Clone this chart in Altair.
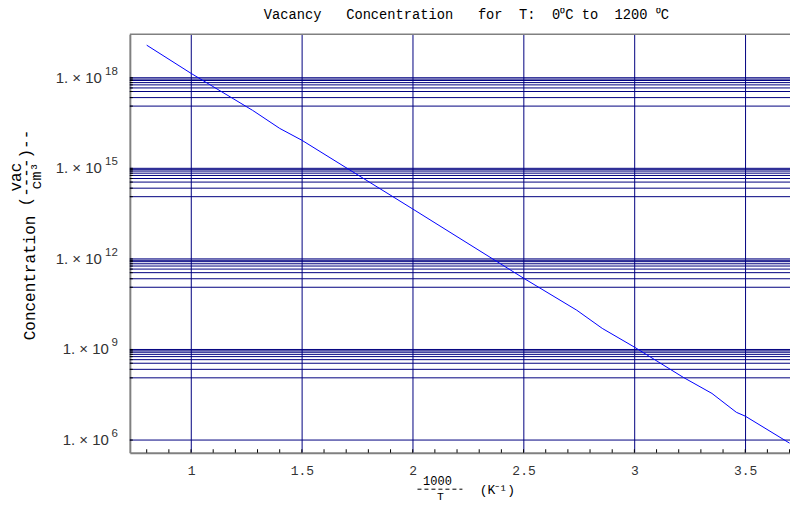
import altair as alt
import pandas as pd

# ---- data ----
inv_T = [0.80, 1.00, 1.278, 1.40, 1.50, 2.00, 2.50, 2.74, 2.855, 3.00, 3.22, 3.35, 3.46, 3.50, 3.70]
conc = [1.2e19, 1.4e18, 8.3e16, 2.1e16, 8.5e15, 4.5e13, 2.3e11, 2.0e10, 5.0e9, 1.2e9,
        1.2e8, 3.5e7, 8.3e6, 6.2e6, 7.9e5]

x_major = [1, 1.5, 2, 2.5, 3, 3.5]
x_minor = [0.8, 0.9, 1.0, 1.1, 1.2, 1.3, 1.4, 1.5, 1.6, 1.7, 1.8, 1.9, 2.0, 2.1, 2.2,
           2.3, 2.4, 2.5, 2.6, 2.7, 2.8, 2.9, 3.0, 3.1, 3.2, 3.3, 3.4, 3.5, 3.6, 3.7]

y_major = [1e6, 1e9, 1e12, 1e15, 1e18]
y_exps = ["6", "9", "12", "15", "18"]
y_main = "1. × 10"

grid_tops = [1e9, 1e12, 1e15, 1e18]
grid_mult = [1.0, 0.9, 0.81, 0.69, 0.58, 0.46, 0.35, 0.22, 0.115]
grid_y = [1e6] + [t * m for t in grid_tops for m in grid_mult]

W, H = 661, 419
NAVY = "#000080"
MONO = "Liberation Mono"
SANS = "Liberation Sans"
S = "\u00a0"
LBL = "#333333"

xscale = alt.Scale(domain=[0.724, 3.702], nice=False, zero=False)
yscale = alt.Scale(type="log", domain=[3.8e5, 2.75e19], nice=False)

xaxis = alt.Axis(values=x_major, grid=True, gridColor=NAVY, gridOpacity=1,
                 gridWidth=1, ticks=False, domainColor="#808080", domainWidth=2,
                 labelFont=MONO, labelFontSize=13, labelColor=LBL,
                 labelPadding=12, labelExpr="'' + datum.value", title=None)
yaxis = alt.Axis(values=y_major, grid=False, ticks=False, labels=False,
                 domainColor="#808080", domainWidth=2, title=None)

curve_df = pd.DataFrame({"x": inv_T, "c": conc})
grid_df = pd.DataFrame({"v": grid_y})
tick_df = pd.DataFrame({"t": x_minor})
lab_df = pd.DataFrame({"v": y_major, "e": y_exps})

curve = alt.Chart(curve_df).mark_line(color="#0000ff", strokeWidth=1).encode(
    x=alt.X("x:Q", scale=xscale, axis=xaxis),
    y=alt.Y("c:Q", scale=yscale, axis=yaxis),
)
hgrid = alt.Chart(grid_df).mark_rule(color=NAVY, strokeWidth=1).encode(
    y=alt.Y("v:Q", scale=yscale, axis=yaxis)
)
lticks = alt.Chart(grid_df).mark_rule(color="black", strokeWidth=1).encode(
    y=alt.Y("v:Q", scale=yscale, axis=yaxis), x=alt.value(0), x2=alt.value(3)
)
bticks = alt.Chart(tick_df).mark_rule(color="black", strokeWidth=1).encode(
    x=alt.X("t:Q", scale=xscale, axis=xaxis), y=alt.value(H), y2=alt.value(H - 3.5)
)

lab_base = alt.Chart(lab_df)
exps = lab_base.mark_text(
    font=SANS, fontSize=11.5, color=LBL, align="right", baseline="middle", dy=-6
).encode(y=alt.Y("v:Q", scale=yscale, axis=yaxis), x=alt.value(-12), text="e:N")
main2 = lab_base.transform_filter("datum.v > 1e10").mark_text(
    text=y_main, font=SANS, fontSize=15, color=LBL, align="right", baseline="middle"
).encode(y=alt.Y("v:Q", scale=yscale, axis=yaxis), x=alt.value(-28))
main1 = lab_base.transform_filter("datum.v < 1e10").mark_text(
    text=y_main, font=SANS, fontSize=15, color=LBL, align="right", baseline="middle"
).encode(y=alt.Y("v:Q", scale=yscale, axis=yaxis), x=alt.value(-21))

one = alt.Data(values=[{}])
topframe = alt.Chart(one).mark_rule(color="#808080", strokeWidth=1.5).encode(
    x=alt.value(0), x2=alt.value(W), y=alt.value(0)
)
fracbar = alt.Chart(one).mark_rule(color="black", strokeWidth=1, strokeDash=[4, 3]).encode(
    x=alt.value(288), x2=alt.value(333), y=alt.value(455.5)
)

def txt(s, x, y, size=13, angle=0, font=MONO, color="black"):
    return alt.Chart(one).mark_text(
        text=s, font=font, fontSize=size, angle=angle, color=color,
        align="center", baseline="middle"
    ).encode(x=alt.value(x), y=alt.value(y))

title_s = ("Vacancy" + S * 3 + "Concentration" + S * 3 + "for" + S * 2 + "T:" + S * 2 +
           "0⁰C" + S + "to" + S * 2 + "1200" + S + "⁰C")
title = txt(title_s, 337, -19, size=13.75)
xt1 = txt("1000", 308, 447, size=12)
xt3 = txt("T", 311, 463, size=11.5)
xt4 = txt("(K⁻¹)", 368, 456, size=13)
yt1 = txt("Concentration", -100, 244, size=16, angle=270)
yt2 = txt("vac", -114, 143, size=16, angle=270)
yt3 = txt("(----)--", -104, 134, size=16, angle=270)
yt4 = txt("cm³", -94, 142, size=15, angle=270)

chart = alt.layer(
    hgrid, curve, lticks, bticks, exps, main2, main1, topframe, fracbar,
    title, xt1, xt3, xt4, yt1, yt2, yt3, yt4
).properties(
    width=W, height=H,
    autosize=alt.AutoSizeParams(type="none"),
    padding={"left": 122, "top": 26, "right": 0, "bottom": 49},
).configure_view(stroke=None)

chart.save("out.html", embed_options={"renderer": "svg", "actions": False})
